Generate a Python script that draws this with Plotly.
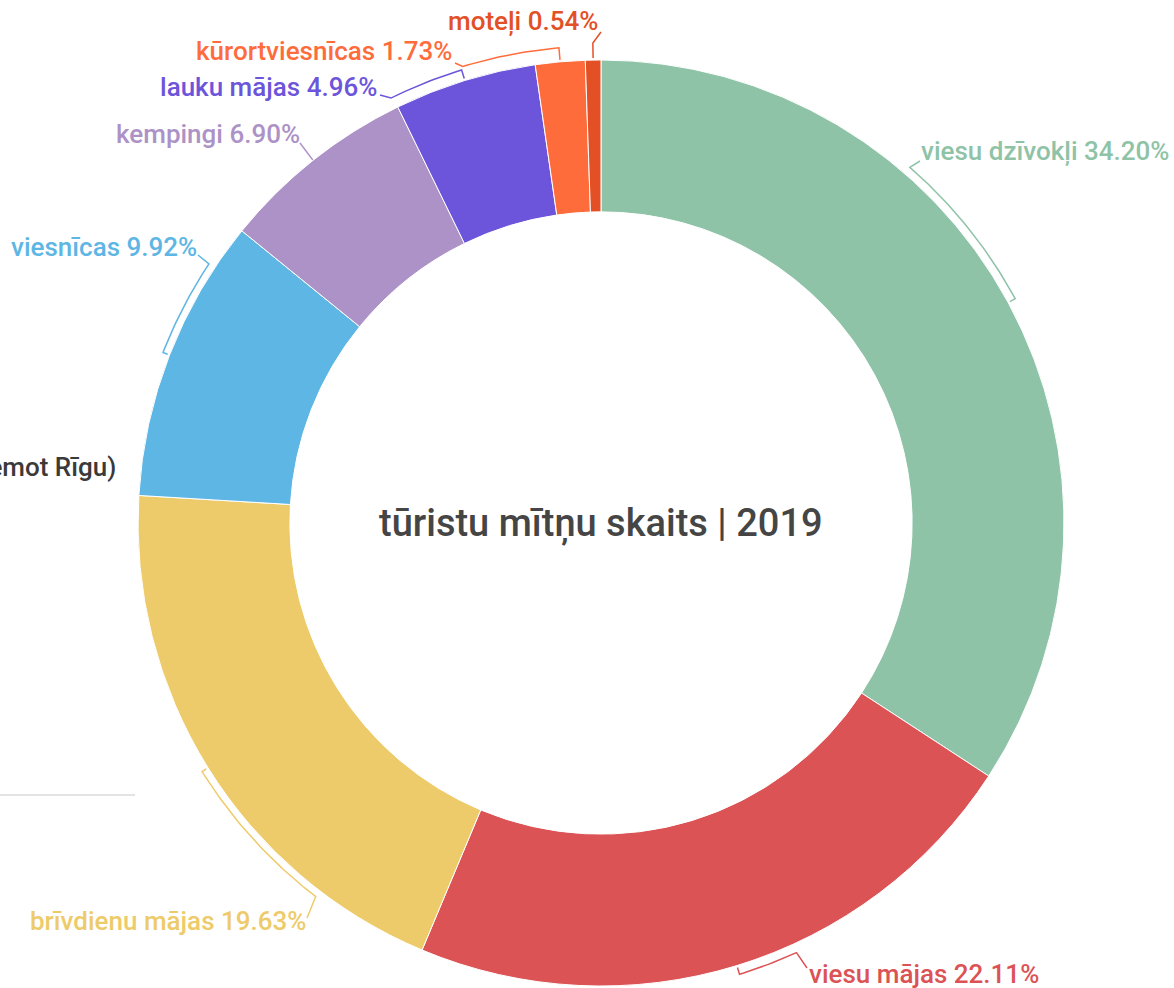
import math
import plotly.graph_objects as go

# ---- data ----
categories = ["viesu dzīvokļi", "viesu mājas", "brīvdienu mājas", "viesnīcas",
              "kempingi", "lauku mājas", "kūrortviesnīcas", "moteļi"]
shares = [34.20, 22.11, 19.63, 9.92, 6.90, 4.96, 1.73, 0.54]
colors = ["#8FC3A7", "#DC5355", "#EECB6A", "#5EB6E4",
          "#AC92C7", "#6C55DB", "#FF6C3C", "#E35025"]
center_title = "tūristu mītņu skaits | 2019"
side_text = "Latvija (izņemot Rīgu)"

# ---- layout settings (pixels) ----
W, H = 1174, 988
CX, CY, R = 601, 523, 463
HOLE = 0.672
# leader-line styling per slice: bracket radius offset, bracket span (deg), label anchor
br_off = [8, 9, 7, 7, 0, 11, 14, 17]
br_span = [-20.6, -7.4, -20.7, 12.2, 0, -9.2, -11.8, 0]
lab_pos = [(920, 161, "left"), (807, 968, "left"), (307, 918, "right"), (198, 255, "right"),
           (300, 143, "right"), (380, 95, "right"), (455, 63, "right"), (601, 32, "right")]
lab_text_pos = [(919, 151, "left"), (807, 974, "left"), (308, 921, "right"), (199, 247, "right"),
                (302, 134, "right"), (379, 87, "right"), (454, 51, "right"), (600, 21, "right")]
LABEL_SIZE = 26
TITLE_SIZE = 38

fig = go.Figure()

# donut
dx0 = (CX - R) / W
dx1 = (CX + R) / W
dy0 = (H - CY - R) / H
dy1 = (H - CY + R) / H
fig.add_trace(go.Pie(
    labels=categories, values=shares, sort=False, direction="clockwise", rotation=0,
    hole=HOLE, textinfo="none", showlegend=False,
    marker=dict(colors=colors, line=dict(color="white", width=1)),
    domain=dict(x=[dx0, dx1], y=[dy0, dy1]),
))


def pt(r, deg):
    a = math.radians(deg)
    return CX + r * math.sin(a), CY - r * math.cos(a)


total = sum(shares)
cum = 0.0
annotations = []
for i, (cat, v) in enumerate(zip(categories, shares)):
    mid = 360.0 * (cum + v / 2) / total
    cum += v
    rb = R + br_off[i]
    xs, ys = [], []
    x, y = pt(R + 2 if br_off[i] > 0 else R, mid)
    xs.append(x); ys.append(y)
    n = max(2, int(abs(br_span[i]) * 2) + 1)
    for k in range(n):
        x, y = pt(rb, mid + br_span[i] * k / (n - 1))
        xs.append(x); ys.append(y)
    lx, ly, _ = lab_pos[i]
    xs.append(lx); ys.append(ly)
    fig.add_trace(go.Scatter(x=xs, y=ys, mode="lines", hoverinfo="skip", showlegend=False,
                             line=dict(color=colors[i], width=1.5)))
    tx, ty, anc = lab_text_pos[i]
    annotations.append(dict(x=tx, y=ty, xref="x", yref="y", xanchor=anc, yanchor="middle",
                            text=f"{cat} {v:.2f}%", showarrow=False,
                            font=dict(family="Roboto", size=LABEL_SIZE, color=colors[i], weight=500)))

annotations.append(dict(x=CX, y=CY, xref="x", yref="y", xanchor="center", yanchor="middle",
                        text=center_title, showarrow=False,
                        font=dict(family="Roboto", size=TITLE_SIZE, color="#454545", weight=500)))
annotations.append(dict(x=118, y=467, xref="x", yref="y", xanchor="right", yanchor="middle",
                        text=side_text, showarrow=False,
                        font=dict(family="Roboto", size=LABEL_SIZE, color="#3a3a3a", weight=500)))

fig.update_layout(
    width=W, height=H, margin=dict(l=0, r=0, t=0, b=0),
    paper_bgcolor="white", plot_bgcolor="rgba(0,0,0,0)",
    xaxis=dict(range=[0, W], visible=False, fixedrange=True),
    yaxis=dict(range=[H, 0], visible=False, fixedrange=True),
    annotations=annotations,
    shapes=[dict(type="line", xref="x", yref="y", x0=0, x1=135, y0=795, y1=795,
                 line=dict(color="#e3e3e3", width=2))],
)

fig.write_html("out.html", config={"displayModeBar": False},
               post_script="document.body.style.margin='0';document.body.style.overflow='hidden';")
